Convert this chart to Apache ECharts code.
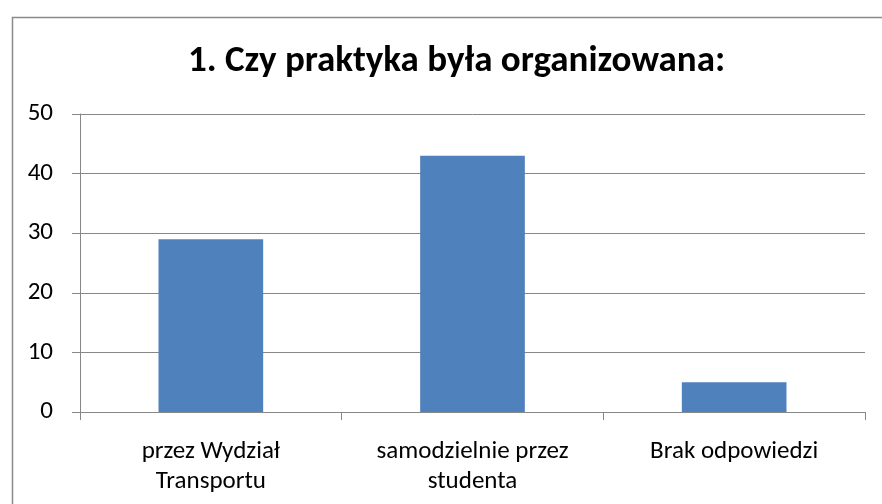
<!DOCTYPE html>
<html><head><meta charset="utf-8">
<script src="https://cdn.jsdelivr.net/npm/echarts@6/dist/echarts.min.js"></script>
<style>html,body{margin:0;padding:0;background:#fff}#c{width:882px;height:504px}</style>
</head><body><div id="c"></div>
<script>
const titleText = '1. Czy praktyka była organizowana:';
const categories = ['przez Wydział\nTransportu', 'samodzielnie przez\nstudenta', 'Brak odpowiedzi'];
const values = [29, 43, 5];
const yTicks = { min: 0, max: 50, interval: 10 };

const chart = echarts.init(document.getElementById('c'), null, { renderer: 'canvas' });
const fontFam = 'Carlito, "Open Sans", "Noto Sans", sans-serif';
chart.setOption({
  animation: false,
  backgroundColor: '#fff',
  graphic: [{
    type: 'rect', left: 10, top: 15, shape: { width: 900, height: 520 },
    style: { fill: 'none', stroke: '#8a8a8a', lineWidth: 1.5 }, silent: true
  }],
  title: {
    text: titleText, left: 183, top: 38,
    textStyle: { fontFamily: fontFam, fontWeight: 'bold', fontSize: 37, color: '#000' }
  },
  grid: { left: 80, right: 17, top: 114, bottom: 92, containLabel: false },
  xAxis: {
    type: 'category', data: categories,
    axisLine: { lineStyle: { color: '#878787', width: 1 } },
    axisTick: { show: true, length: 8, alignWithLabel: false, lineStyle: { color: '#878787' } },
    axisLabel: { margin: 25, fontFamily: fontFam, fontSize: 25, color: '#000', lineHeight: 30, interval: 0 }
  },
  yAxis: {
    type: 'value', min: yTicks.min, max: yTicks.max, interval: yTicks.interval,
    axisLine: { show: true, lineStyle: { color: '#878787', width: 1 } },
    axisTick: { show: true, length: 8, lineStyle: { color: '#878787' } },
    splitLine: { lineStyle: { color: '#878787', width: 1 } },
    axisLabel: { margin: 27, fontFamily: fontFam, fontSize: 25, color: '#000' }
  },
  series: [{
    type: 'bar', data: values, barWidth: '40%',
    itemStyle: { color: '#4F81BD' }
  }]
});
</script></body></html>
